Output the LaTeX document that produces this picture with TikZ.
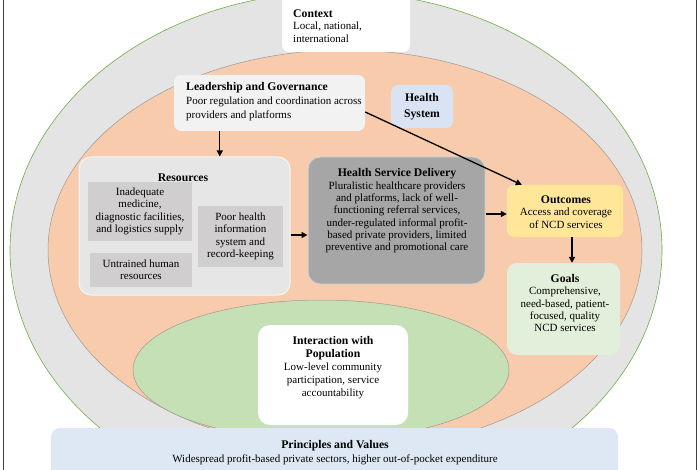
\documentclass[tikz,border=0pt]{standalone}
\usepackage{fontspec}
\setmainfont{Liberation Serif}
\usetikzlibrary{arrows.meta,calc}
\definecolor{ctxgray}{HTML}{E4E4E4}
\definecolor{ctxline}{HTML}{70AD47}
\definecolor{hsorange}{HTML}{F8CBAD}
\definecolor{popgreen}{HTML}{C5E0B4}
\definecolor{pvblue}{HTML}{DEE8F4}
\definecolor{leadgray}{HTML}{F2F2F2}
\definecolor{hslabel}{HTML}{DAE3F3}
\definecolor{resgray}{HTML}{E6E6E6}
\definecolor{subgray}{HTML}{D0CECE}
\definecolor{hsdgray}{HTML}{A6A6A6}
\definecolor{outyellow}{HTML}{FFE699}
\definecolor{goalgreen}{HTML}{E2EFDA}
\definecolor{ringline}{HTML}{A09890}
\newcommand{\ttl}[1]{{\fontsize{11.7}{13}\selectfont\bfseries #1}}
\begin{document}
\begin{tikzpicture}[x=1pt,y=-1pt,
  box/.style={rounded corners=7pt, inner sep=0pt, align=center},
  sqbox/.style={inner sep=0pt, align=center, fill=subgray},
  body/.style={font=\fontsize{11}{12.3}\selectfont, inner sep=0pt},
  arr/.style={-{Triangle[length=6pt,width=6pt]}, line width=1.3pt, black},
  ring/.style={draw=ringline, line width=0.5pt}]
\useasboundingbox (0,0) rectangle (700,470);
\clip (0,0) rectangle (700,470);
\fill[white] (0,0) rectangle (700,470);
% rings
\filldraw[fill=ctxgray, draw=ctxline, line width=0.6pt] (336,250) ellipse [x radius=326, y radius=258];
\filldraw[fill=hsorange, ring] (345,250) ellipse [x radius=297, y radius=200];
\filldraw[fill=popgreen, ring] (321,370) ellipse [x radius=188, y radius=70];
% frame
\draw[line width=0.9pt, black!75] (3,0) -- (3,470);
\draw[line width=0.9pt, black!75] (696,0) -- (696,470);
% context
\node[box, fill=white, minimum width=128pt, minimum height=62pt] (ctx) at (346,21) {};
\node[body, align=left, anchor=west] (ctxtxt) at (293,26) {\ttl{Context}\\Local, national,\\international};
% leadership
\node[box, fill=leadgray, minimum width=191pt, minimum height=56pt] (lead) at (269.5,103) {};
\node[body, align=left, anchor=west, font=\fontsize{11}{14}\selectfont] (leadtxt) at (186,102) {\ttl{Leadership and Governance}\\Poor regulation and coordination across\\providers and platforms};
% health system label
\node[box, fill=hslabel, minimum width=62pt, minimum height=43pt, font=\fontsize{11.7}{16}\selectfont\bfseries] (hs) at (422,106.5) {Health\\System};
% resources
\node[box, fill=resgray, draw=white!60!resgray, line width=1pt, rounded corners=12pt, minimum width=211pt, minimum height=138pt] (res) at (184.5,226) {};
\node[inner sep=0pt] (restitle) at (183,178) {\ttl{Resources}};
\node[sqbox, body, minimum width=104pt, minimum height=59pt] (inad) at (140,211.5) {Inadequate\\medicine,\\diagnostic facilities,\\and logistics supply};
\node[sqbox, body, minimum width=102pt, minimum height=34pt] (untr) at (141,270) {Untrained human\\resources};
\node[sqbox, body, minimum width=85pt, minimum height=61pt] (phis) at (240.5,236.5) {Poor health\\information\\system and\\record-keeping};
% health service delivery
\node[box, fill=hsdgray, draw=white!50!hsdgray, line width=1pt, rounded corners=12pt, minimum width=177pt, minimum height=127pt] (hsd) at (396.5,220.5) {};
\node[body, align=center] (hsdtxt) at (397,211) {\ttl{Health Service Delivery}\\Pluralistic healthcare providers\\and platforms, lack of well-\\functioning referral services,\\under-regulated informal profit-\\based private providers, limited\\preventive and promotional care};
% outcomes
\node[box, fill=outyellow, minimum width=116pt, minimum height=52pt] (out) at (565,211) {};
\node[body, align=center] (outtxt) at (566,212) {\ttl{Outcomes}\\Access and coverage\\of NCD services};
% goals
\node[box, fill=goalgreen, rounded corners=10pt, minimum width=113pt, minimum height=92pt] (goals) at (563.5,309) {};
\node[body, align=center] (goalstxt) at (565,303) {\ttl{Goals}\\Comprehensive,\\need-based, patient-\\focused, quality\\NCD services};
% interaction
\node[box, fill=white, rounded corners=12pt, minimum width=150pt, minimum height=100pt] (inter) at (333,375) {};
\node[body, align=center, font=\fontsize{11}{13}\selectfont] (intertxt) at (333,368) {\ttl{Interaction with}\\\ttl{Population}\\Low-level community\\participation, service\\accountability};
% principles
\node[box, fill=pvblue, rounded corners=9pt, minimum width=567pt, minimum height=57pt] (pv) at (334.5,456.5) {};
\node[body, align=center, font=\fontsize{11}{14}\selectfont] (pvtxt) at (335,453) {\ttl{Principles and Values}\\Widespread profit-based private sectors, higher out-of-pocket expenditure};
% arrows
\draw[arr] ([xshift=46pt]lead.south west) -- ([xshift=46pt]lead.south west |- res.north);
\draw[arr] ([yshift=-9pt]lead.east) -- ([xshift=15pt]out.north west);
\draw[arr] ([yshift=-9pt]res.east) -- ([yshift=-9pt]res.east -| hsd.west);
\draw[arr] ([yshift=-3pt]out.west -| hsd.east) -- ([yshift=-3pt]out.west);
\draw[arr] ([xshift=7pt]out.south) -- ([xshift=7pt]out.south |- goals.north);
\end{tikzpicture}
\end{document}
